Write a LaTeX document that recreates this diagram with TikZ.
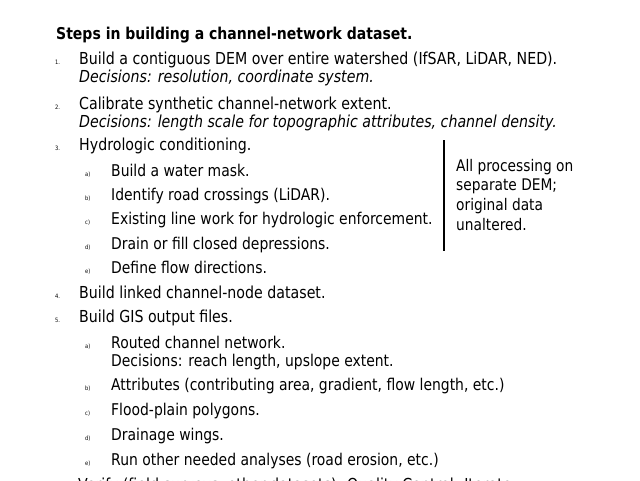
\documentclass[tikz,border=0pt]{standalone}
\usepackage{fontspec}
\setmainfont{DejaVu Sans}[FakeStretch=0.86]
\begin{document}
\begin{tikzpicture}[x=1pt,y=-1pt,
  main/.style={anchor=base west,inner sep=0pt,font=\fontsize{16.5}{18}\selectfont},
  sub/.style={anchor=base west,inner sep=0pt,font=\fontsize{16.2}{17}\selectfont},
  ital/.style={main,font=\fontsize{16.5}{18}\selectfont\itshape},
  ttl/.style={anchor=base west,inner sep=0pt,font=\fontsize{16.3}{18}\selectfont\bfseries},
  num/.style={anchor=base west,inner sep=0pt,font=\fontsize{6}{7}\selectfont},
  note/.style={anchor=base west,inner sep=0pt,font=\fontsize{16}{17}\selectfont},
  bar/.style={line width=2.4pt,black}]
\useasboundingbox (0,0) rectangle (640,480);
\clip (0,0) rectangle (640,480);
\node[ttl] (title) at (56,39) {Steps in building a channel-network dataset.};
% item 1
\node[num] (n1) at (55,64) {1.};
\node[main] (t1) at (79,64) {Build a contiguous DEM over entire watershed (IfSAR, LiDAR, NED).};
\node[ital] (d1) at (79,82) {Decisions: resolution, coordinate system.};
% item 2
\node[num] (n2) at (55,109) {2.};
\node[main] (t2) at (79,109) {Calibrate synthetic channel-network extent.};
\node[ital] (d2) at (79,127) {Decisions: length scale for topographic attributes, channel density.};
% item 3
\node[num] (n3) at (55,150) {3.};
\node[main] (t3) at (79,150) {Hydrologic conditioning.};
\node[num] (n3a) at (85,176) {a)};
\node[sub] (t3a) at (111,176) {Build a water mask.};
\node[num] (n3b) at (85,200) {b)};
\node[sub] (t3b) at (111,200) {Identify road crossings (LiDAR).};
\node[num] (n3c) at (85,224.5) {c)};
\node[sub] (t3c) at (111,224.5) {Existing line work for hydrologic enforcement.};
\node[num] (n3d) at (85,249) {d)};
\node[sub] (t3d) at (111,249) {Drain or fill closed depressions.};
\node[num] (n3e) at (85,273.5) {e)};
\node[sub] (t3e) at (111,273.5) {Define flow directions.};
% item 4
\node[num] (n4) at (55,298) {4.};
\node[main] (t4) at (79,298) {Build linked channel-node dataset.};
% item 5
\node[num] (n5) at (55,322.5) {5.};
\node[main] (t5) at (79,322.5) {Build GIS output files.};
\node[num] (n5a) at (85,348) {a)};
\node[sub] (t5a) at (111,348) {Routed channel network.};
\node[sub] (t5a2) at (111,366.5) {Decisions: reach length, upslope extent.};
\node[num] (n5b) at (85,390.5) {b)};
\node[sub] (t5b) at (111,390.5) {Attributes (contributing area, gradient, flow length, etc.)};
\node[num] (n5c) at (85,415.5) {c)};
\node[sub] (t5c) at (111,415.5) {Flood-plain polygons.};
\node[num] (n5d) at (85,440.5) {d)};
\node[sub] (t5d) at (111,440.5) {Drainage wings.};
\node[num] (n5e) at (85,465) {e)};
\node[sub] (t5e) at (111,465) {Run other needed analyses (road erosion, etc.)};
% item 6 (cut off at the lower edge, as in the reference)
\node[num] (n6) at (55,490) {6.};
\node[main] (t6) at (78,490) {Verify (field surveys, other datasets). Quality Control. Iterate.};
% side note
\coordinate (bartop) at (444,140);
\coordinate (barbot) at (444,251);
\draw[bar] (bartop) -- (barbot);
\node[note] (s1) at (456,171.5) {All processing on};
\node[note] (s2) at (456,190.5) {separate DEM;};
\node[note] (s3) at (456,210.5) {original data};
\node[note] (s4) at (456,230) {unaltered.};
\end{tikzpicture}
\end{document}
